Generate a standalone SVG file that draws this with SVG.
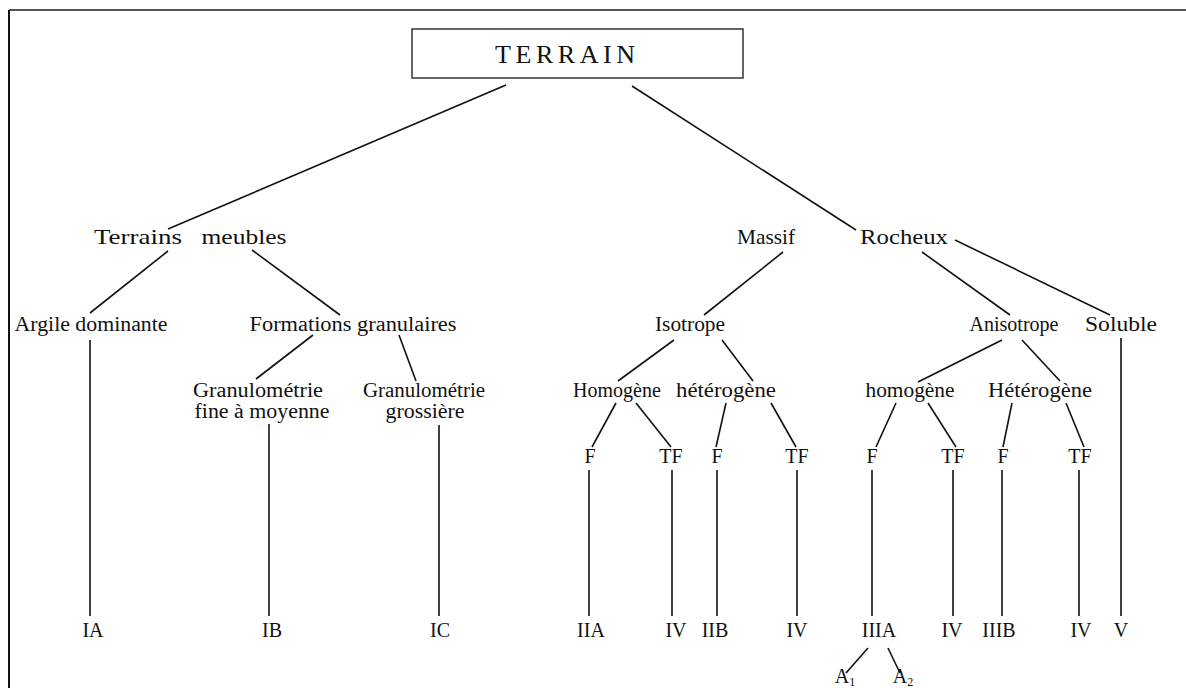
<svg xmlns="http://www.w3.org/2000/svg" width="1186" height="688" viewBox="0 0 1186 688">
<style>
text{font-family:"Liberation Serif","DejaVu Serif",serif;fill:#111;font-size:20px;text-anchor:middle}
.l1{font-size:22px}
.top{font-size:26px}
.c line{stroke:#111;stroke-width:1.6}
.sub{font-size:12px}
</style>
<rect width="1186" height="688" fill="#fff"/>
<g id="frame">
<line x1="9" y1="10" x2="1186" y2="10" stroke="#555" stroke-width="2"/>
<line x1="9" y1="10" x2="9" y2="688" stroke="#111" stroke-width="2"/>
</g>
<g class="c" id="connectors">
<line x1="506" y1="85" x2="168" y2="229"/>
<line x1="632" y1="86" x2="856" y2="230"/>
<line x1="168" y1="251" x2="90" y2="313"/>
<line x1="252" y1="250" x2="340" y2="315"/>
<line x1="783" y1="252" x2="704" y2="315"/>
<line x1="922" y1="252" x2="1010" y2="315"/>
<line x1="955" y1="240" x2="1110" y2="315"/>
<line x1="313" y1="335" x2="256" y2="379"/>
<line x1="399" y1="335" x2="416" y2="381"/>
<line x1="90" y1="340" x2="90" y2="616"/>
<line x1="269" y1="424" x2="269" y2="616"/>
<line x1="439" y1="425" x2="439" y2="616"/>
<line x1="674" y1="340" x2="618" y2="381"/>
<line x1="722" y1="340" x2="753" y2="381"/>
<line x1="1002" y1="340" x2="918" y2="382"/>
<line x1="1022" y1="340" x2="1060" y2="381"/>
<line x1="1121" y1="338" x2="1121" y2="616"/>
<line x1="616" y1="403" x2="592" y2="447"/>
<line x1="636" y1="403" x2="671" y2="447"/>
<line x1="726" y1="403" x2="716" y2="447"/>
<line x1="771" y1="403" x2="796" y2="447"/>
<line x1="896" y1="403" x2="876" y2="447"/>
<line x1="928" y1="403" x2="956" y2="447"/>
<line x1="1012" y1="403" x2="1003" y2="447"/>
<line x1="1066" y1="403" x2="1084" y2="447"/>
<line x1="589" y1="470" x2="589" y2="616"/>
<line x1="672" y1="470" x2="672" y2="616"/>
<line x1="717" y1="470" x2="717" y2="616"/>
<line x1="797" y1="470" x2="797" y2="616"/>
<line x1="872" y1="470" x2="872" y2="616"/>
<line x1="953" y1="470" x2="953" y2="616"/>
<line x1="1002" y1="470" x2="1002" y2="616"/>
<line x1="1079" y1="470" x2="1079" y2="616"/>
<line x1="868" y1="648" x2="846" y2="673"/>
<line x1="888" y1="648" x2="900" y2="673"/>
</g>
<g id="n-terrain">
<rect x="412" y="29" width="331" height="49" fill="none" stroke="#333" stroke-width="1.5"/>
<text class="top" x="565" y="63" textLength="140" lengthAdjust="spacing">TERRAIN</text>
</g>
<g id="n-meubles"><text class="l1" x="138" y="244" textLength="88" lengthAdjust="spacingAndGlyphs">Terrains</text><text class="l1" x="244" y="244" textLength="85" lengthAdjust="spacingAndGlyphs">meubles</text></g>
<g id="n-rocheux"><text class="l1" x="766" y="244" textLength="58" lengthAdjust="spacingAndGlyphs">Massif</text><text class="l1" x="904" y="244" textLength="88" lengthAdjust="spacingAndGlyphs">Rocheux</text></g>
<g id="n-argile"><text x="91" y="331" textLength="153" lengthAdjust="spacingAndGlyphs">Argile dominante</text></g>
<g id="n-formations"><text x="353" y="331" textLength="207" lengthAdjust="spacingAndGlyphs">Formations granulaires</text></g>
<g id="n-isotrope"><text x="690" y="331" textLength="70" lengthAdjust="spacingAndGlyphs">Isotrope</text></g>
<g id="n-anisotrope"><text x="1014" y="331">Anisotrope</text></g>
<g id="n-soluble"><text x="1121" y="331" textLength="72" lengthAdjust="spacingAndGlyphs">Soluble</text></g>
<g id="n-gfine"><text x="258" y="397" textLength="130" lengthAdjust="spacingAndGlyphs">Granulométrie</text><text x="262" y="418" textLength="135" lengthAdjust="spacingAndGlyphs">fine à moyenne</text></g>
<g id="n-ggros"><text x="424" y="397" textLength="122" lengthAdjust="spacingAndGlyphs">Granulométrie</text><text x="425" y="418" textLength="79" lengthAdjust="spacingAndGlyphs">grossière</text></g>
<g id="n-iso-hom"><text x="617" y="397">Homogène</text></g>
<g id="n-iso-het"><text x="726" y="397" textLength="100" lengthAdjust="spacingAndGlyphs">hétérogène</text></g>
<g id="n-ani-hom"><text x="910" y="397" textLength="89" lengthAdjust="spacingAndGlyphs">homogène</text></g>
<g id="n-ani-het"><text x="1040" y="397" textLength="104" lengthAdjust="spacingAndGlyphs">Hétérogène</text></g>
<g id="n-f1"><text x="590" y="463">F</text></g>
<g id="n-tf1"><text x="671" y="463">TF</text></g>
<g id="n-f2"><text x="717" y="463">F</text></g>
<g id="n-tf2"><text x="797" y="463">TF</text></g>
<g id="n-f3"><text x="872" y="463">F</text></g>
<g id="n-tf3"><text x="953" y="463">TF</text></g>
<g id="n-f4"><text x="1003" y="463">F</text></g>
<g id="n-tf4"><text x="1080" y="463">TF</text></g>
<g id="n-ia"><text x="93" y="637">IA</text></g>
<g id="n-ib"><text x="272" y="637">IB</text></g>
<g id="n-ic"><text x="440" y="637">IC</text></g>
<g id="n-iia"><text x="591" y="637">IIA</text></g>
<g id="n-iv1"><text x="676" y="637">IV</text></g>
<g id="n-iib"><text x="715" y="637">IIB</text></g>
<g id="n-iv2"><text x="797" y="637">IV</text></g>
<g id="n-iiia"><text x="879" y="637">IIIA</text></g>
<g id="n-iv3"><text x="952" y="637">IV</text></g>
<g id="n-iiib"><text x="999" y="637">IIIB</text></g>
<g id="n-iv4"><text x="1081" y="637">IV</text></g>
<g id="n-v"><text x="1121" y="637">V</text></g>
<g id="n-a1"><text x="845" y="683">A<tspan class="sub" dy="3">1</tspan></text></g>
<g id="n-a2"><text x="903" y="683">A<tspan class="sub" dy="3">2</tspan></text></g>
</svg>
